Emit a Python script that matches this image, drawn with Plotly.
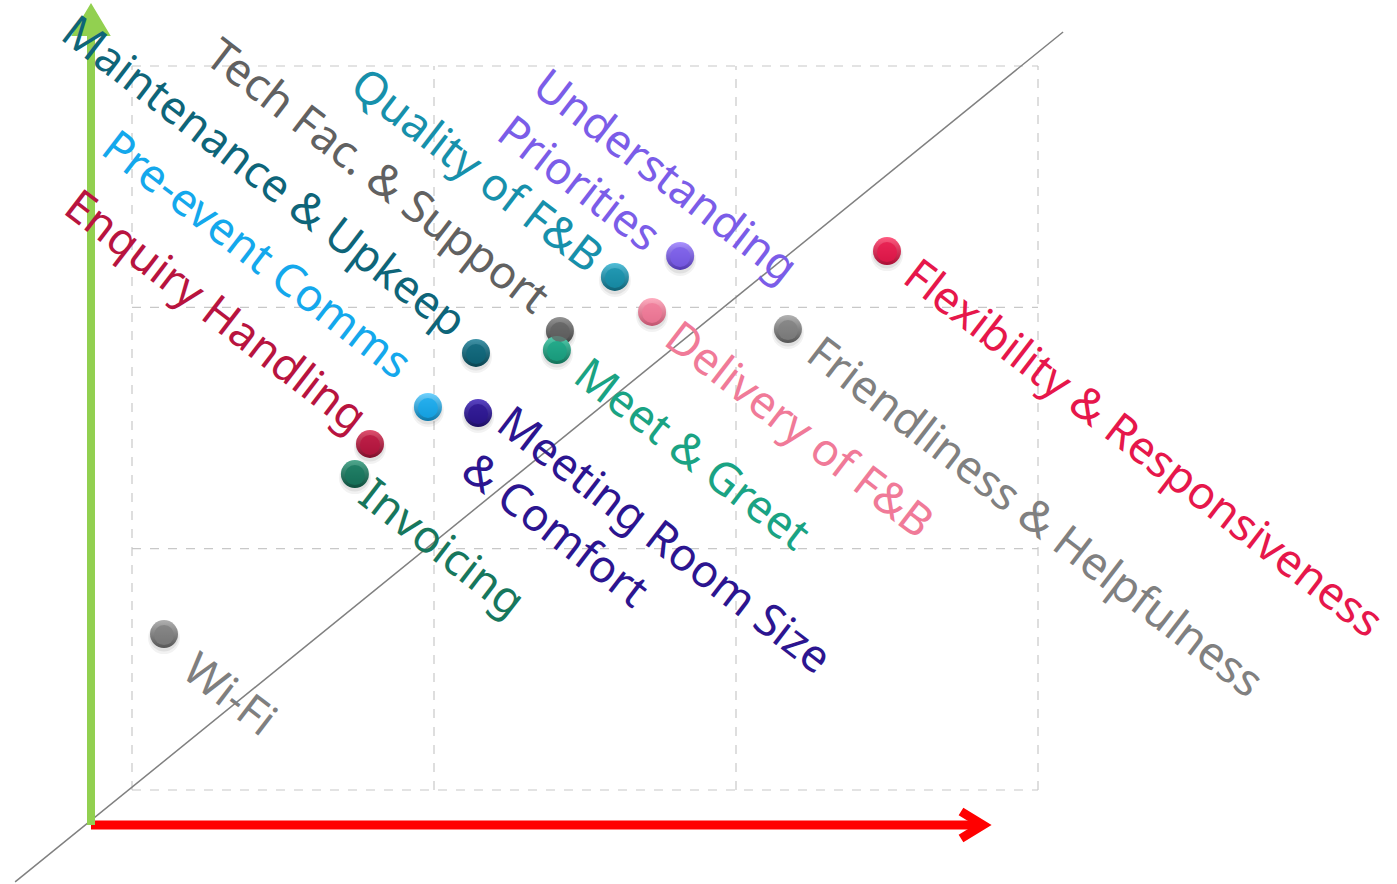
import plotly.graph_objects as go

# ---------------- data ----------------
NAMES = ["Wi-Fi", "Invoicing", "Enquiry Handling", "Pre-event Comms",
         "Meeting Room Size<br>& Comfort", "Maintenance & Upkeep",
         "Tech Fac. & Support", "Meet & Greet", "Quality of F&B",
         "Delivery of F&B", "Understanding<br>Priorities",
         "Friendliness & Helpfulness", "Flexibility & Responsiveness"]
X_VALUES = [0.106, 0.738, 0.788, 0.980, 1.146, 1.139, 1.417, 1.407,
            1.599, 1.722, 1.815, 2.172, 2.500]
Y_VALUES = [0.646, 1.309, 1.434, 1.587, 1.562, 1.811, 1.902, 1.823,
            2.126, 1.981, 2.213, 1.910, 2.233]
GRID_TICKS = [0, 1, 2, 3]

# ---------------- style ----------------
COLORS = ["#7f7f7f", "#17775d", "#b8143f", "#14a8ec", "#2c1590", "#0e6579",
          "#616161", "#1aa383", "#1790ab", "#f07a98", "#7b5de8", "#808080",
          "#e6174b"]
LIGHT = ["#b0b0b0", "#4fa88e", "#e0506f", "#6fd2ff", "#5a44c4", "#3f93a8",
         "#939393", "#54cfb0", "#52bfd9", "#ffadc0", "#aa92ff", "#b2b2b2",
         "#ff5a80"]
DARK = ["#555555", "#0c4d3c", "#7e0d2a", "#0a78aa", "#1b0c63", "#07424f",
        "#3d3d3d", "#107058", "#0d6175", "#c2546f", "#5138b0", "#555555",
        "#a90e34"]
# label centre offsets from the ball, in pixels (right, down)
LABEL_DX = [67, 89, -153, -169, 170, -211, -181, 137, -137, 148, -31, 249, 258]
LABEL_DY = [58, 72, -134, -154, 149, -178, -156, 102, -108, 116, -58, 186, 195]
LABEL_ALIGN = ["left"] * 13

W, H = 1397, 884
PX_X = 302.0      # pixels per x unit
PX_Y = 241.33     # pixels per y unit
X_RANGE = [-132 / PX_X, (W - 132) / PX_X]
Y_RANGE = [-(H - 790) / PX_Y, 790 / PX_Y]

ORIGIN = (-41 / PX_X, -35 / PX_Y)
X_ARROW_TIP = 851 / PX_X
Y_ARROW_TIP = 785 / PX_Y
DIAG_X = [-0.387, 3.083]
DIAG_Y = [-0.381, 3.141]

FONT = "Noto Sans"
FONT_SIZE = 45
ANGLE = 37.5

fig = go.Figure()

# diagonal reference line
fig.add_trace(go.Scatter(x=DIAG_X, y=DIAG_Y, mode="lines",
                         line=dict(color="#808080", width=1.5),
                         hoverinfo="skip", showlegend=False))

# ball shadows (soft)
fig.add_trace(go.Scatter(
    x=X_VALUES, y=[v - 4 / PX_Y for v in Y_VALUES], mode="markers",
    marker=dict(size=32, color="rgba(0,0,0,0.05)", line=dict(width=0)),
    hoverinfo="skip", showlegend=False))
fig.add_trace(go.Scatter(
    x=X_VALUES, y=[v - 3 / PX_Y for v in Y_VALUES], mode="markers",
    marker=dict(size=29, color="rgba(0,0,0,0.07)", line=dict(width=0)),
    hoverinfo="skip", showlegend=False))

# balls
fig.add_trace(go.Scatter(
    x=X_VALUES, y=Y_VALUES, mode="markers",
    marker=dict(size=28, color=LIGHT, line=dict(width=0),
                gradient=dict(type="vertical", color=DARK)),
    hovertext=[n.replace("<br>", " ") for n in NAMES], hoverinfo="text",
    showlegend=False))
fig.add_trace(go.Scatter(
    x=X_VALUES, y=[v - 1 / PX_Y for v in Y_VALUES], mode="markers",
    marker=dict(size=20, color=COLORS, line=dict(width=0), opacity=0.75),
    hoverinfo="skip", showlegend=False))

# labels
for i, name in enumerate(NAMES):
    fig.add_annotation(
        x=X_VALUES[i], y=Y_VALUES[i], text=name, showarrow=False,
        xanchor="center", yanchor="middle", align=LABEL_ALIGN[i],
        xshift=LABEL_DX[i], yshift=-LABEL_DY[i], textangle=ANGLE,
        font=dict(family=FONT, size=FONT_SIZE, color=COLORS[i]))

shapes = []
# dashed grid box
for t in GRID_TICKS:
    shapes.append(dict(type="line", x0=t, x1=t, y0=GRID_TICKS[0], y1=GRID_TICKS[-1],
                       line=dict(color="#c8c8c8", width=1.2, dash="dash"), layer="below"))
    shapes.append(dict(type="line", y0=t, y1=t, x0=GRID_TICKS[0], x1=GRID_TICKS[-1],
                       line=dict(color="#c8c8c8", width=1.2, dash="dash"), layer="below"))

ox, oy = ORIGIN
# red x arrow
shapes.append(dict(type="line", x0=ox, y0=oy, x1=X_ARROW_TIP - 4 / PX_X, y1=oy,
                   line=dict(color="#ff0000", width=9)))
shapes.append(dict(type="path",
                   path=(f"M {X_ARROW_TIP - 22 / PX_X} {oy + 13.5 / PX_Y} "
                         f"L {X_ARROW_TIP} {oy} "
                         f"L {X_ARROW_TIP - 22 / PX_X} {oy - 13.5 / PX_Y}"),
                   line=dict(color="#ff0000", width=9)))
# green y arrow
shapes.append(dict(type="line", x0=ox, y0=oy, x1=ox, y1=Y_ARROW_TIP - 25 / PX_Y,
                   line=dict(color="#92d050", width=8)))
shapes.append(dict(type="path",
                   path=(f"M {ox - 18 / PX_X} {Y_ARROW_TIP - 30 / PX_Y} "
                         f"L {ox} {Y_ARROW_TIP} "
                         f"L {ox + 18 / PX_X} {Y_ARROW_TIP - 30 / PX_Y} Z"),
                   fillcolor="#92d050", line=dict(color="#92d050", width=2)))

fig.update_layout(
    width=W, height=H, margin=dict(l=0, r=0, t=0, b=0),
    paper_bgcolor="white", plot_bgcolor="white",
    xaxis=dict(range=X_RANGE, visible=False, fixedrange=True),
    yaxis=dict(range=Y_RANGE, visible=False, fixedrange=True),
    shapes=shapes, showlegend=False)

fig.write_html("out.html")
